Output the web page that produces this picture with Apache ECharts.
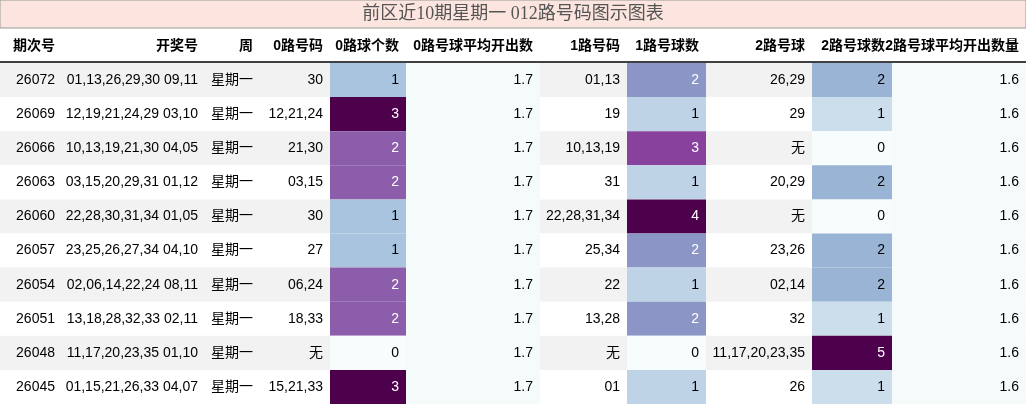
<!DOCTYPE html>
<html><head><meta charset="utf-8">
<script src="https://cdn.jsdelivr.net/npm/echarts@6/dist/echarts.min.js"></script>
<style>html,body{margin:0;padding:0;background:#fff}#c{width:1026px;height:404px}</style>
</head><body><div id="c"></div>
<script>
const headers = ['期次号','开奖号','周','0路号码','0路球个数','0路号球平均开出数','1路号码','1路号球数','2路号球','2路号球数','2路号球平均开出数量'];
const periods = ['26072','26069','26066','26063','26060','26057','26054','26051','26048','26045'];
const draws = ['01,13,26,29,30 09,11','12,19,21,24,29 03,10','10,13,19,21,30 04,05','03,15,20,29,31 01,12','22,28,30,31,34 01,05','23,25,26,27,34 04,10','02,06,14,22,24 08,11','13,18,28,32,33 02,11','11,17,20,23,35 01,10','01,15,21,26,33 04,07'];
const weekday = ['星期一','星期一','星期一','星期一','星期一','星期一','星期一','星期一','星期一','星期一'];
const r0nums = ['30','12,21,24','21,30','03,15','30','27','06,24','18,33','无','15,21,33'];
const r0count = [1,3,2,2,1,1,2,2,0,3];
const r0avg = ['1.7','1.7','1.7','1.7','1.7','1.7','1.7','1.7','1.7','1.7'];
const r1nums = ['01,13','19','10,13,19','31','22,28,31,34','25,34','22','13,28','无','01'];
const r1count = [2,1,3,1,4,2,1,2,0,1];
const r2nums = ['26,29','29','无','20,29','无','23,26','02,14','32','11,17,20,23,35','26'];
const r2count = [2,1,0,2,0,2,2,1,5,1];
const r2avg = ['1.6','1.6','1.6','1.6','1.6','1.6','1.6','1.6','1.6','1.6'];

const cols = [periods,draws,weekday,r0nums,r0count,r0avg,r1nums,r1count,r2nums,r2count,r2avg];
const edges = [0,62,205,260,330,406,540,627,706,812,892,1026];
const heatCols = {4:3,7:4,9:5};
const avgCols = {5:1,10:1};
const BuPu = ['#f7fcfd','#e0ecf4','#bfd3e6','#9ebcda','#8c96c6','#8c6bb1','#88419d','#810f7c','#4d004b'];
function lerp(a,b,t){const p=x=>[1,3,5].map(i=>parseInt(x.substr(i,2),16));const A=p(a),B=p(b);return 'rgb('+A.map((v,i)=>Math.round(v+(B[i]-v)*t)).join(',')+')';}
function cmap(t){const s=t*(BuPu.length-1);const i=Math.min(Math.floor(s),BuPu.length-2);return lerp(BuPu[i],BuPu[i+1],s-i);}

const data=[];
for(let r=0;r<periods.length;r++)for(let c=0;c<cols.length;c++)data.push([c,r,String(cols[c][r])]);

const chart=echarts.init(document.getElementById('c'),null,{renderer:'canvas'});
chart.setOption({
  animation:false,
  graphic:[
    {type:'rect',shape:{x:0,y:0,width:1026,height:28},style:{fill:'#fde5df',stroke:'#999',lineWidth:1}},
    {type:'text',x:513,y:14,style:{text:'前区近10期星期一 012路号码图示图表',fontFamily:'Liberation Serif, Noto Sans CJK SC',fontSize:18,fill:'#555',align:'center',verticalAlign:'middle'}},
    ...headers.map((h,i)=>({type:'text',x:edges[i+1]-7,y:46,style:{text:h,fontFamily:'Liberation Sans, Noto Sans CJK SC',fontWeight:'bold',fontSize:14,fill:'#000',align:'right',verticalAlign:'middle'}})),
    {type:'line',shape:{x1:0,y1:62,x2:1026,y2:62},style:{stroke:'#000',lineWidth:1.5}}
  ],
  grid:{left:0,right:0,top:63,bottom:0},
  xAxis:{type:'value',min:0,max:1026,show:false},
  yAxis:{type:'category',data:periods,inverse:true,show:false},
  series:[{type:'custom',data:data,renderItem:function(params,api){
    const c=api.value(0),r=api.value(1),txt=cols[c][r];
    const p0=api.coord([edges[c],r]);const p1=api.coord([edges[c+1],r]);
    const h=api.size([0,1])[1];
    let fill=r%2===0?'#f2f2f2':'#ffffff';let tc='#000';
    if(avgCols[c])fill='#f5fbfb';
    if(heatCols[c]!==undefined){const t=txt/heatCols[c];fill=cmap(t);if(t>0.45)tc='#fff';}
    return {type:'group',children:[
      {type:'rect',shape:{x:p0[0],y:p0[1]-h/2,width:p1[0]-p0[0],height:h},style:{fill:fill}},
      {type:'text',x:p1[0]-7,y:p0[1],style:{text:String(txt),fontFamily:'Liberation Sans, Noto Sans CJK SC',fontSize:14,fill:tc,align:'right',verticalAlign:'middle'}}
    ]};
  }}]
});
</script></body></html>
